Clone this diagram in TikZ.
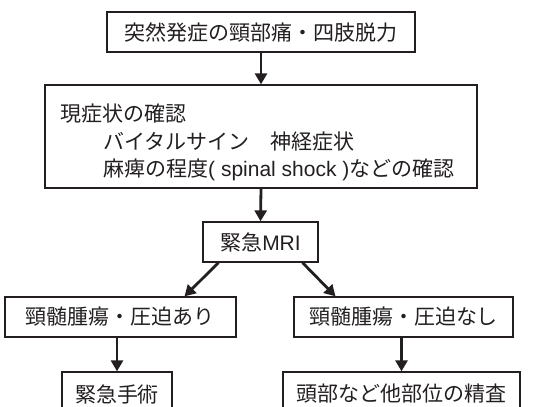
\documentclass[tikz,border=0pt]{standalone}
\usepackage{fontspec}
\setmainfont{Noto Sans CJK JP}
\newfontfamily\lat{Liberation Sans}
\usetikzlibrary{arrows.meta,calc}
\definecolor{ink}{HTML}{231F20}
\tikzset{
  box/.style={draw=ink, line width=1.3pt, minimum height=40pt, inner sep=0pt, text=ink,
    font=\fontsize{21}{25}\selectfont},
  arr/.style={draw=ink, line width=2.8pt, -{Triangle[length=11pt,width=12pt]}},
  txt/.style={anchor=west, inner sep=0pt, text=ink, font=\fontsize{21}{25}\selectfont}
}
\begin{document}
\begin{tikzpicture}[x=1pt,y=-1pt]
\useasboundingbox (0,0) rectangle (550,407);
\clip (0,0) rectangle (550,407);
\node[box, minimum width=308pt] (n1) at (261,32) {突然発症の頸部痛・四肢脱力};
\node[box, minimum width=432pt, minimum height=103pt] (n2) at (261,136.5) {};
\node[txt] (t1) at (60,114) {現症状の確認};
\node[txt] (t2) at (103,142) {バイタルサイン　神経症状};
\node[txt] (t3) at (103,170) {麻痺の程度{\lat( spinal shock )}などの確認};
\node[box, minimum width=115pt] (n3) at (260.5,242) {緊急{\lat MRI}};
\node[box, minimum width=231pt] (n4) at (120.5,317) {頸髄腫瘍・圧迫あり};
\node[box, minimum width=219pt] (n5) at (403.5,317) {頸髄腫瘍・圧迫なし};
\node[box, minimum width=110pt, minimum height=44pt] (n6) at (117,394) {\raisebox{1pt}{緊急手術}};
\node[box, minimum width=237pt, minimum height=44pt] (n7) at (401.5,394) {\raisebox{1pt}{頭部など他部位の精査}};
\draw[arr] (n1.south) -- (n2.north);
\draw[arr] (n2.south) -- (n3.north);
\coordinate (a1) at ($(n3.south)+(-42,0)$);
\coordinate (b1) at ($(n4.north)+(64,0)$);
\coordinate (a2) at ($(n3.south)+(42,0)$);
\coordinate (b2) at ($(n5.north)+(-68,0)$);
\draw[arr] (a1) -- (b1);
\draw[arr] (a2) -- (b2);
\draw[arr] (n4.south -| n6.north) -- (n6.north);
\draw[arr] (n5.south -| n7.north) -- (n7.north);
\end{tikzpicture}
\end{document}
